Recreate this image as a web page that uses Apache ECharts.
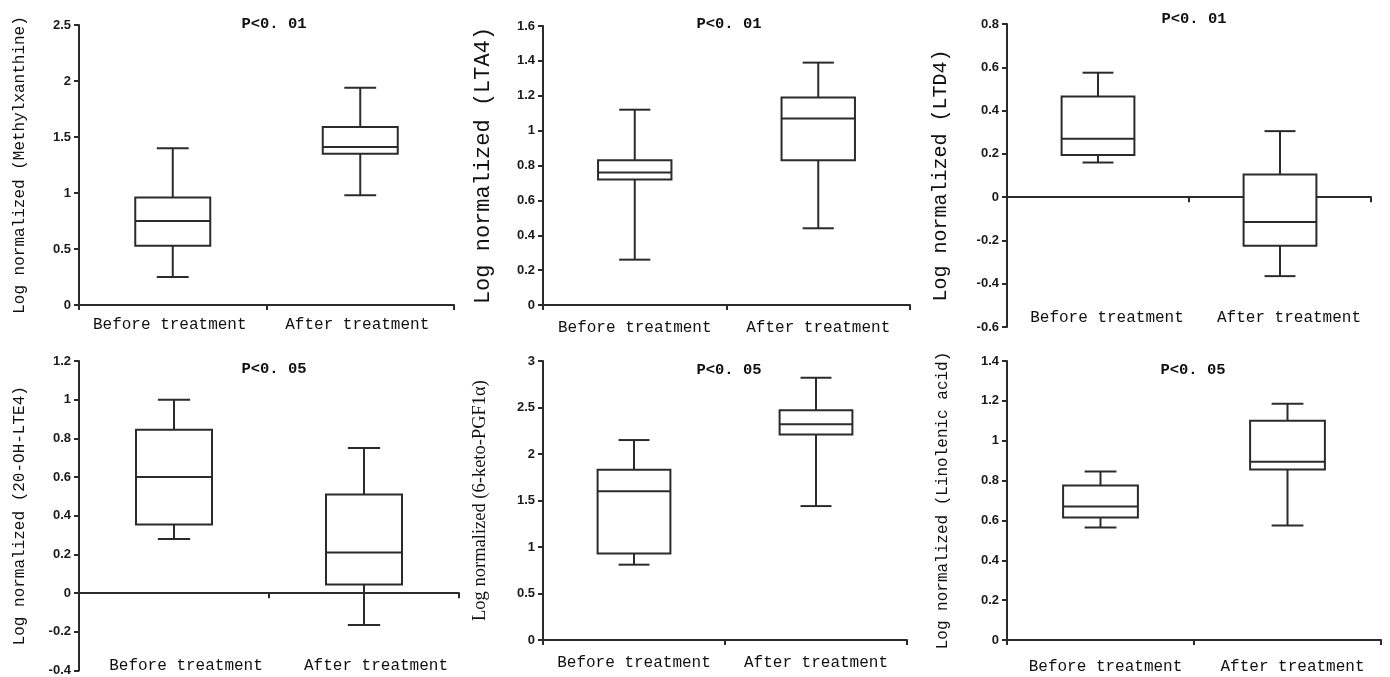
<!DOCTYPE html>
<html>
<head>
<meta charset="utf-8">
<script src="https://cdn.jsdelivr.net/npm/echarts@6/dist/echarts.min.js"></script>
<style>html,body{margin:0;padding:0;background:#fff}#c{width:1390px;height:677px}</style>
</head>
<body>
<div id="c"></div>
<script>
// ---- data: [min, Q1, median, Q3, max] for Before / After treatment ----
const categories = ['Before treatment', 'After treatment'];
const methylxanthine = [[0.25, 0.53, 0.75, 0.96, 1.40], [0.98, 1.35, 1.41, 1.59, 1.94]];
const lta4 = [[0.26, 0.72, 0.76, 0.83, 1.12], [0.44, 0.83, 1.07, 1.19, 1.39]];
const ltd4 = [[0.16, 0.195, 0.27, 0.465, 0.575], [-0.365, -0.225, -0.115, 0.105, 0.305]];
const ohLte4 = [[0.28, 0.355, 0.60, 0.845, 1.00], [-0.165, 0.045, 0.21, 0.51, 0.75]];
const ketoPgf = [[0.81, 0.93, 1.60, 1.83, 2.15], [1.44, 2.21, 2.32, 2.47, 2.82]];
const linolenic = [[0.565, 0.615, 0.67, 0.775, 0.845], [0.575, 0.855, 0.895, 1.10, 1.185]];

const pTexts = ['P<0. 01', 'P<0. 01', 'P<0. 01', 'P<0. 05', 'P<0. 05', 'P<0. 05'];
const yNames = ['Log normalized (Methylxanthine)', 'Log normalized (LTA4)', 'Log normalized (LTD4)',
                'Log normalized (20-OH-LTE4)', 'Log normalized (6-keto-PGF1\u03b1)', 'Log normalized (Linolenic acid)'];
const yMin = [0, 0, -0.6, -0.4, 0, 0];
const yMax = [2.5, 1.6, 0.8, 1.2, 3, 1.4];
const yStep = [0.5, 0.2, 0.2, 0.2, 0.5, 0.2];
const panelData = [methylxanthine, lta4, ltd4, ohLte4, ketoPgf, linolenic];

// ---- layout (pixels) ----
const grids = [
  {left: 79, top: 25, width: 375, height: 280},
  {left: 543, top: 26, width: 367, height: 279},
  {left: 1007, top: 24, width: 364, height: 303},
  {left: 79, top: 361, width: 380, height: 313},
  {left: 543, top: 361, width: 364, height: 279},
  {left: 1007, top: 361, width: 374, height: 279}
];
const titlePos = [[269, 11], [724, 11], [1189, 6], [269, 356], [724, 357], [1188, 357]];
const nameGaps = [51, 49, 56, 51, 53, 56];
const nameSizes = [16, 22, 20, 16, 18.5, 16];
const nameFonts = ['Liberation Mono', 'Liberation Mono', 'Liberation Mono', 'Liberation Mono', 'Liberation Serif', 'Liberation Mono'];
const labelOffset = [0, 0, -25, -21, 0, 0];
const labelMargin = [12, 15, 8, 8, 15, 19];
const labelShift = [-3, 0, 9, 12, 0, 5];

const INK = '#2b2b2b';

function renderBox(params, api) {
  const x = api.value(0);
  const lo = api.coord([x, api.value(1)]);
  const q1 = api.coord([x, api.value(2)]);
  const md = api.coord([x, api.value(3)]);
  const q3 = api.coord([x, api.value(4)]);
  const hi = api.coord([x, api.value(5)]);
  const band = api.size([1, 0])[0];
  const bw = band * 0.4, cw = band * 0.17;
  const cx = md[0];
  const st = {stroke: INK, lineWidth: 2, fill: null};
  return {
    type: 'group',
    children: [
      {type: 'line', shape: {x1: cx, y1: hi[1], x2: cx, y2: q3[1]}, style: st},
      {type: 'line', shape: {x1: cx - cw / 2, y1: hi[1], x2: cx + cw / 2, y2: hi[1]}, style: st},
      {type: 'line', shape: {x1: cx, y1: q1[1], x2: cx, y2: lo[1]}, style: st},
      {type: 'line', shape: {x1: cx - cw / 2, y1: lo[1], x2: cx + cw / 2, y2: lo[1]}, style: st},
      {type: 'rect', shape: {x: cx - bw / 2, y: q3[1], width: bw, height: q1[1] - q3[1]},
        style: {stroke: INK, lineWidth: 2, fill: '#fff'}},
      {type: 'line', shape: {x1: cx - bw / 2, y1: md[1], x2: cx + bw / 2, y2: md[1]}, style: st}
    ]
  };
}

const option = {
  animation: false,
  backgroundColor: '#fff',
  title: [], grid: [], xAxis: [], yAxis: [], series: []
};

for (let i = 0; i < 6; i++) {
  option.grid.push(grids[i]);
  option.title.push({
    text: pTexts[i], left: titlePos[i][0], top: titlePos[i][1], textAlign: 'center',
    textStyle: {fontFamily: 'Liberation Mono', fontWeight: 'bold', fontSize: 15.5, color: '#111'}
  });
  // axis line + ticks (sits on zero)
  option.xAxis.push({
    type: 'category', gridIndex: i, data: categories,
    axisLine: {onZero: true, lineStyle: {color: INK, width: 2}},
    axisTick: {show: true, length: 5, lineStyle: {color: INK, width: 2}},
    axisLabel: {show: false}, splitLine: {show: false}
  });
  // category labels at the bottom
  const s = labelShift[i];
  option.xAxis.push({
    type: 'category', gridIndex: i, data: categories, position: 'bottom', offset: labelOffset[i],
    axisLine: {show: false, onZero: false}, axisTick: {show: false}, splitLine: {show: false},
    axisLabel: {interval: 0, margin: labelMargin[i], fontFamily: 'Liberation Mono', fontSize: 16, color: '#111',
      padding: s >= 0 ? [0, 0, 0, 2 * s] : [0, -2 * s, 0, 0]}
  });
  option.yAxis.push({
    type: 'value', gridIndex: i, min: yMin[i], max: yMax[i], interval: yStep[i],
    name: yNames[i], nameLocation: 'middle', nameGap: nameGaps[i], nameRotate: 90,
    nameTextStyle: {fontFamily: nameFonts[i], fontSize: nameSizes[i], color: '#111'},
    axisLine: {show: true, lineStyle: {color: INK, width: 2}},
    axisTick: {show: true, length: 5, lineStyle: {color: INK, width: 2}},
    axisLabel: {fontFamily: 'Liberation Sans', fontWeight: 'bold', fontSize: 13, color: '#1a1a1a', margin: 8},
    splitLine: {show: false}
  });
  option.series.push({
    type: 'custom', xAxisIndex: 2 * i, yAxisIndex: i,
    renderItem: renderBox,
    encode: {x: 0, y: [1, 2, 3, 4, 5]},
    data: panelData[i].map((v, k) => [k].concat(v))
  });
}

const chart = echarts.init(document.getElementById('c'), null, {renderer: 'canvas'});
chart.setOption(option);
</script>
</body>
</html>
